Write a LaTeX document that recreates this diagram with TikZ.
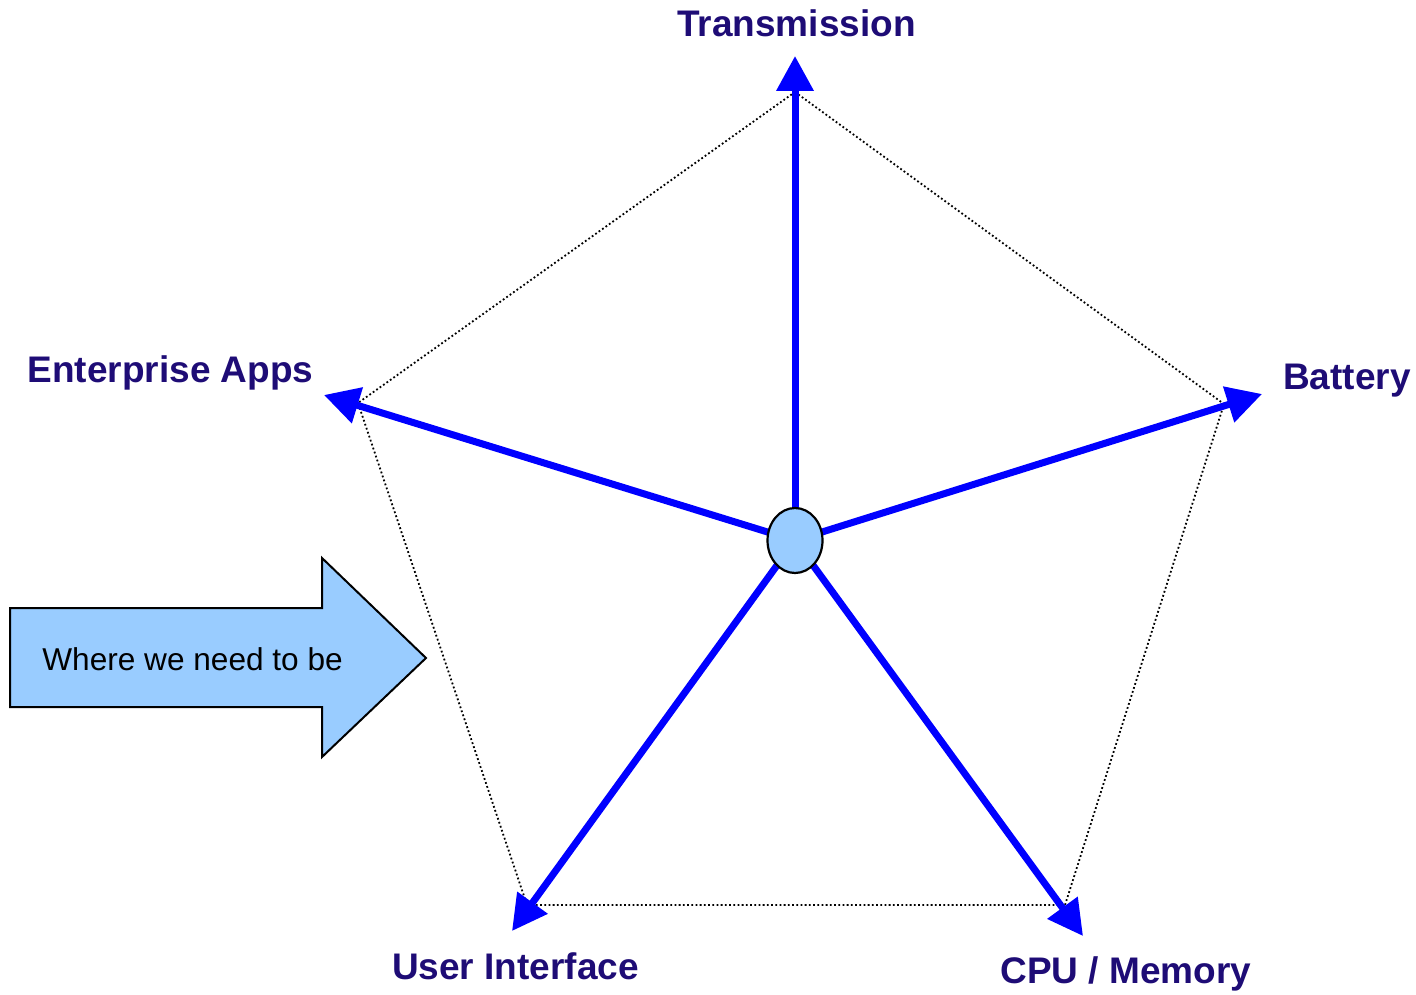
\documentclass[tikz,border=0pt]{standalone}
\usepackage{fontspec}
\setmainfont{Liberation Sans}
\usetikzlibrary{arrows.meta,shapes.geometric}
\definecolor{labelnavy}{RGB}{30,12,118}
\definecolor{spokeblue}{RGB}{0,0,255}
\definecolor{paleblue}{RGB}{153,204,255}
\tikzset{
  spoke/.style={draw=spokeblue, line width=3.5pt,
    -{Triangle[length=17.5pt,width=18pt]}},
  rim/.style={draw=black, line width=0.9pt, dash pattern=on 0.9pt off 1.2pt},
  axislabel/.style={anchor=base, inner sep=0pt, text=labelnavy,
    font=\fontsize{18.5pt}{22pt}\selectfont\bfseries},
  hub/.style={draw=black, line width=1.1pt, fill=paleblue, ellipse,
    minimum width=27.5pt, minimum height=32.5pt, inner sep=0pt},
}
\begin{document}
\begin{tikzpicture}[x=0.5pt, y=-0.5pt]
  \useasboundingbox (0,0) rectangle (1416,994);

  % pentagon corners
  \coordinate (vT) at (795,92);
  \coordinate (vB) at (1224,404);
  \coordinate (vC) at (1065,905);
  \coordinate (vU) at (527,905);
  \coordinate (vE) at (358,403);

  % spoke tips
  \coordinate (tT) at (795,56);
  \coordinate (tB) at (1262,394);
  \coordinate (tE) at (324,395);
  \coordinate (tU) at (512,931);
  \coordinate (tC) at (1083,936);

  % dotted outline
  \draw[rim] (vT) -- (vB) -- (vC) -- (vU) -- (vE) -- cycle;

  % centre
  \coordinate (c) at (795,540.5);
  \foreach \t in {tT,tB,tC,tU,tE}
    \draw[spoke] (c) -- (\t);
  \node[hub] (hubnode) at (c) {};

  % labels
  \node[axislabel] (lT) at (796.5,37) {Transmission};
  \node[axislabel] (lB) at (1347,389) {Battery};
  \node[axislabel] (lE) at (170.5,382) {Enterprise Apps};
  \node[axislabel] (lU) at (515.5,979) {User Interface};
  \node[axislabel] (lC) at (1126,983) {CPU / Memory};

  % block arrow
  \draw[fill=paleblue, draw=black, line width=1pt, line join=miter]
    (10,608) -- (322,608) -- (322,558) -- (426,658) -- (322,757)
    -- (322,707) -- (10,707) -- cycle;
  \node[anchor=base west, inner sep=0pt,
    font=\fontsize{15.8pt}{19pt}\selectfont] (wb) at (42,670) {Where we need to be};
\end{tikzpicture}
\end{document}
